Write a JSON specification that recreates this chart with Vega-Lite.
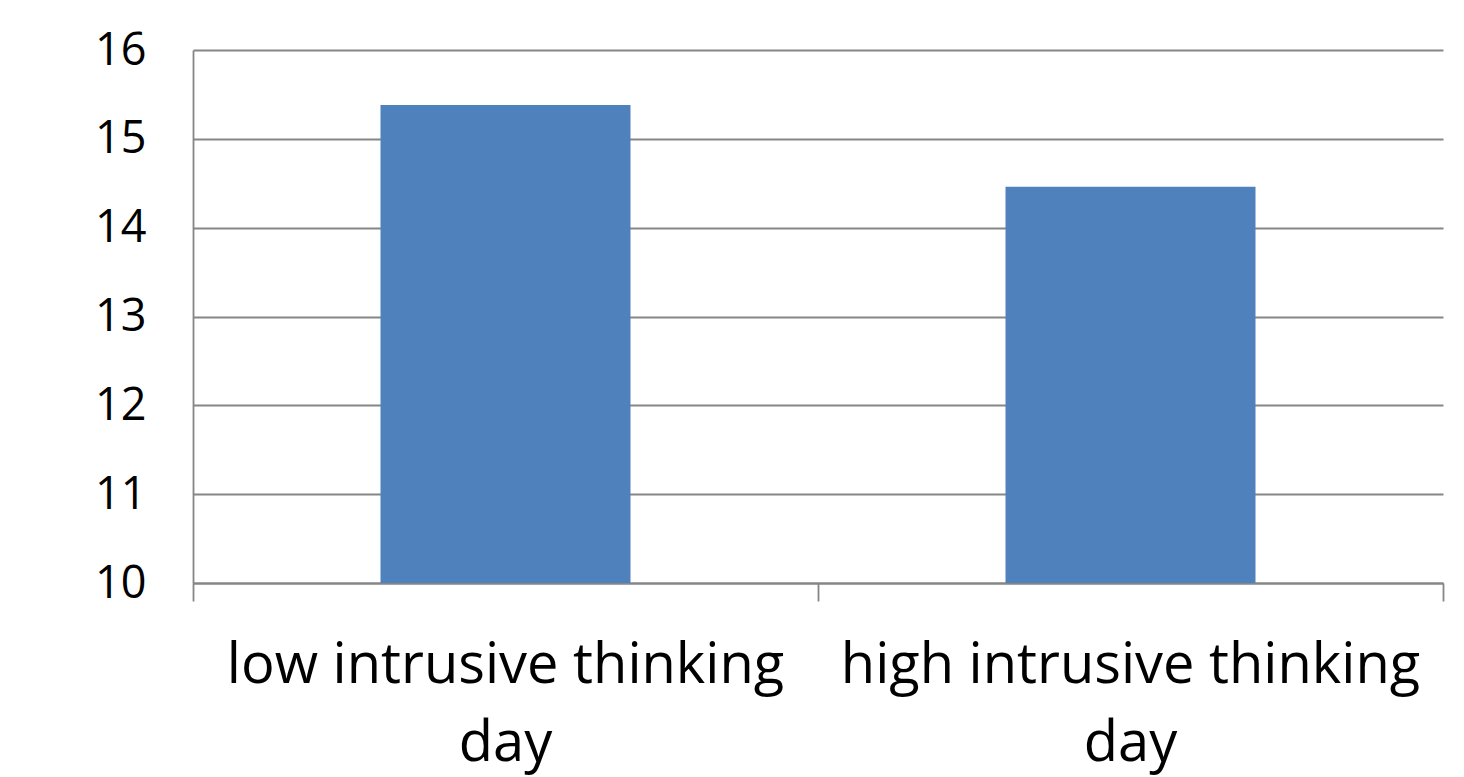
{
  "$schema": "https://vega.github.io/schema/vega-lite/v6.json",
  "autosize": "none",
  "width": 1250,
  "height": 533,
  "padding": {"left": 193, "top": 50, "right": 21, "bottom": 194},
  "background": "white",
  "config": {
    "view": {"stroke": null},
    "font": "Open Sans"
  },
  "data": {
    "values": [
      {"condition": "low intrusive thinking day", "value": 15.38},
      {"condition": "high intrusive thinking day", "value": 14.46}
    ]
  },
  "mark": {"type": "bar", "color": "#4F81BD", "width": {"band": 0.4}, "clip": true},
  "encoding": {
    "x": {
      "field": "condition",
      "type": "nominal",
      "sort": null,
      "scale": {"paddingInner": 0, "paddingOuter": 0},
      "axis": {
        "title": null,
        "labelAngle": 0,
        "bandPosition": 1,
        "tickExtra": true,
        "tickSize": 18,
        "tickColor": "#868686",
        "tickWidth": 1.8,
        "domainColor": "#868686",
        "domainWidth": 1.8,
        "labelFont": "Open Sans",
        "labelFontSize": 56,
        "labelColor": "black",
        "labelBaseline": "alphabetic",
        "labelPadding": 81,
        "labelLineHeight": 78,
        "labelLimit": 0,
        "labelExpr": "datum.label == '' ? '' : (datum.value == 'low intrusive thinking day' ? ['low intrusive thinking', 'day'] : ['high intrusive thinking', 'day'])"
      }
    },
    "y": {
      "field": "value",
      "type": "quantitative",
      "scale": {"domain": [10, 16], "zero": false},
      "axis": {
        "title": null,
        "values": [10, 11, 12, 13, 14, 15, 16],
        "grid": true,
        "gridColor": "#868686",
        "gridWidth": 1.8,
        "domainColor": "#868686",
        "domainWidth": 1.8,
        "ticks": false,
        "labelFont": "Open Sans",
        "labelFontSize": 45,
        "labelColor": "black",
        "labelPadding": 47
      }
    },
    "y2": {"datum": 10}
  }
}
